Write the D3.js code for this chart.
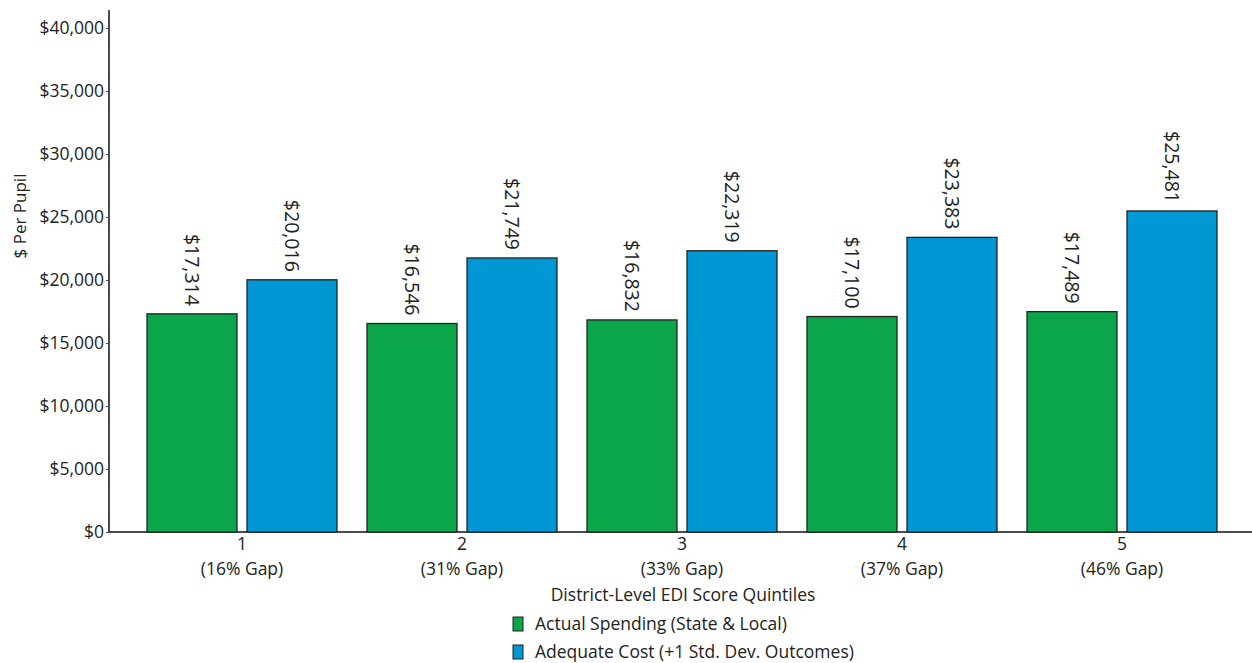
<!DOCTYPE html>
<html>
<head>
<meta charset="utf-8">
<script src="https://cdn.jsdelivr.net/npm/d3@7"></script>
<style>
  body { margin: 0; background: #fff; }
  text { font-family: "Open Sans", "Noto Sans", sans-serif; fill: #222; }
</style>
</head>
<body>
<div class="plot1"></div>
<script>
// quintile categories and their gap labels
var quintiles = ["1", "2", "3", "4", "5"];
var gapLabels = ["(16% Gap)", "(31% Gap)", "(33% Gap)", "(37% Gap)", "(46% Gap)"];
// series
var actualSpending = [17314, 16546, 16832, 17100, 17489];
var adequateCost = [20016, 21749, 22319, 23383, 25481];
var seriesNames = ["Actual Spending (State & Local)", "Adequate Cost (+1 Std. Dev. Outcomes)"];
var seriesColors = ["#0ba64a", "#0098d4"];
var yTicks = [0, 5000, 10000, 15000, 20000, 25000, 30000, 35000, 40000];

var width = 1252, height = 663;
var svg = d3.select(".plot1").append("svg")
  .attr("width", width)
  .attr("height", height);

var rows = quintiles.map(function(q, i) {
  return { q: q, gap: gapLabels[i], vals: [actualSpending[i], adequateCost[i]] };
});

var y = d3.scaleLinear().domain([0, 40000]).range([532, 28]);
var x0 = d3.scaleBand().domain(quintiles).range([132, 1232]);
var x1 = d3.scaleBand().domain([0, 1]).range([15, 205]).paddingInner(0.1);

// y axis
var yAxis = svg.append("g")
  .attr("transform", "translate(109,0)")
  .call(d3.axisLeft(y).tickValues(yTicks).tickSize(3).tickPadding(2)
    .tickFormat(function(d) { return "$" + d3.format(",")(d); }));
yAxis.select(".domain").attr("d", "M0,10V532").attr("stroke", "#111").attr("stroke-width", 1.5);
yAxis.selectAll("text").style("font-size", "17.5px").attr("fill", "#222");
yAxis.selectAll("line").attr("stroke", "#444");

// x axis line
svg.append("line")
  .attr("x1", 109).attr("x2", 1252)
  .attr("y1", 532).attr("y2", 532)
  .attr("stroke", "#111").attr("stroke-width", 1.5);

var groups = svg.selectAll("g.grp")
  .data(rows)
  .enter()
  .append("g")
  .attr("class", "grp")
  .attr("transform", function(d) { return "translate(" + x0(d.q) + ",0)"; });

groups.selectAll("rect")
  .data(function(d) { return d.vals; })
  .enter()
  .append("rect")
  .attr("x", function(d, i) { return x1(i); })
  .attr("y", function(d) { return y(d); })
  .attr("width", x1.bandwidth())
  .attr("height", function(d) { return y(0) - y(d); })
  .style("fill", function(d, i) { return seriesColors[i]; })
  .style("stroke", "#222")
  .style("stroke-width", 1.3);

groups.selectAll("text.val")
  .data(function(d) { return d.vals; })
  .enter()
  .append("text")
  .attr("class", "val")
  .attr("transform", function(d, i) {
    return "translate(" + (x1(i) + x1.bandwidth() / 2) + "," + (y(d) - 8) + ") rotate(90)";
  })
  .attr("dy", "0.35em")
  .style("text-anchor", "end")
  .style("font-size", "19.5px")
  .text(function(d) { return "$" + d3.format(",")(d); });

// x tick labels
groups.append("text")
  .attr("x", x0.bandwidth() / 2)
  .attr("y", 550)
  .style("text-anchor", "middle")
  .style("font-size", "17.5px")
  .text(function(d) { return d.q; });
groups.append("text")
  .attr("x", x0.bandwidth() / 2)
  .attr("y", 575)
  .style("text-anchor", "middle")
  .style("font-size", "17.5px")
  .text(function(d) { return d.gap; });

svg.append("text")
  .attr("x", 683).attr("y", 601)
  .style("text-anchor", "middle")
  .style("font-size", "17.5px")
  .text("District-Level EDI Score Quintiles");

svg.append("text")
  .attr("transform", "translate(26,216) rotate(-90)")
  .style("text-anchor", "middle")
  .style("font-size", "17px")
  .text("$ Per Pupil");

// legend
var legend = svg.append("g").attr("transform", "translate(513,617)");
legend.selectAll("rect")
  .data(seriesNames)
  .enter()
  .append("rect")
  .attr("x", 0)
  .attr("y", function(d, i) { return i * 28; })
  .attr("width", 10)
  .attr("height", 14)
  .style("fill", function(d, i) { return seriesColors[i]; })
  .style("stroke", "#222")
  .style("stroke-width", 1);
legend.selectAll("text")
  .data(seriesNames)
  .enter()
  .append("text")
  .attr("x", 22)
  .attr("y", function(d, i) { return i * 28 + 13; })
  .style("font-size", "17.5px")
  .text(function(d) { return d; });
</script>
</body>
</html>
